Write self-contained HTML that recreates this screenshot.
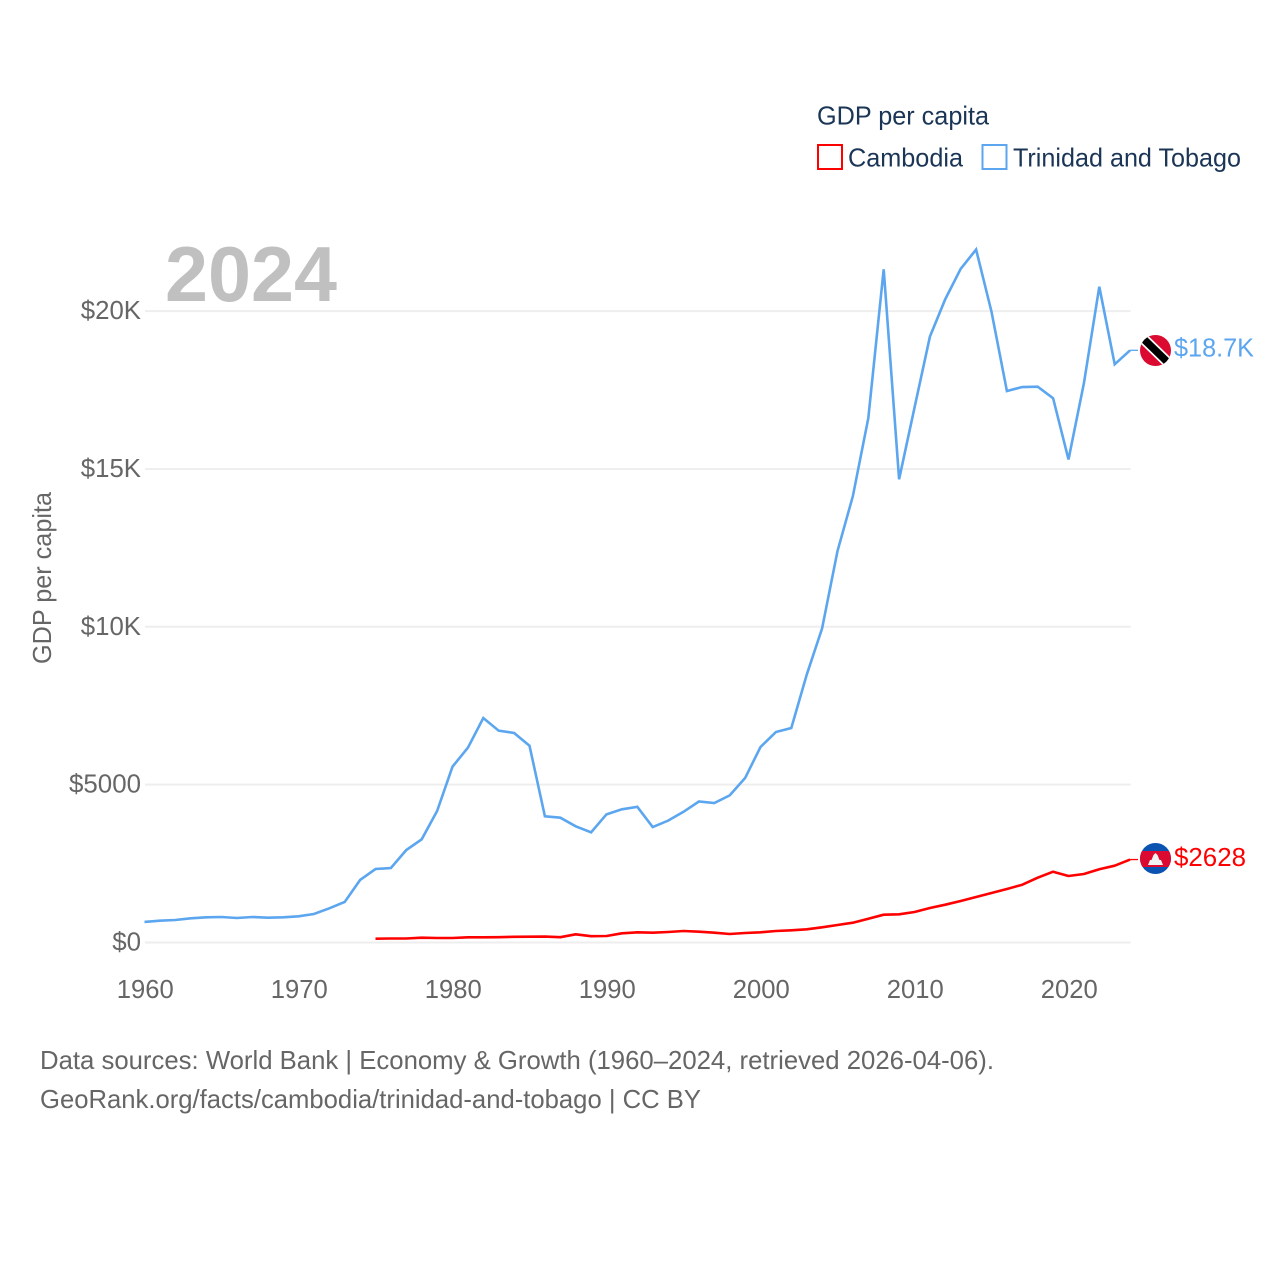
<!DOCTYPE html>
<html lang="en">
<head>
<meta charset="utf-8">
<title>GDP per capita: Cambodia and Trinidad and Tobago</title>
<style>
html,body{margin:0;padding:0;background:#fff}
svg{display:block}
text{font-family:"Liberation Sans",sans-serif;font-size:26px}
</style>
</head>
<body>
<svg id="chart" xmlns="http://www.w3.org/2000/svg" width="1280" height="1280" viewBox="0 0 1280 1280">
  <rect width="1280" height="1280" fill="#fff"/>
  <g id="grid"></g>
  <g id="yticks"></g>
  <g id="xticks"></g>
  <text x="165" y="301" font-weight="700" style="font-size:78px" fill="#c0c0c0" textLength="172" lengthAdjust="spacingAndGlyphs">2024</text>
  <text transform="translate(51,664) rotate(-90)" fill="#666" textLength="172" lengthAdjust="spacingAndGlyphs">GDP per capita</text>
  <g id="series"></g>

  <g>
    <clipPath id="ttClip"><circle cx="1155.500" cy="350.500" r="15.500"/></clipPath>
    <g clip-path="url(#ttClip)">
      <rect x="1139" y="334" width="33" height="33" fill="#da0a30"/>
      <line x1="1139" y1="334.500" x2="1172" y2="366.500" stroke="#fff" stroke-width="11"/>
      <line x1="1139" y1="334.500" x2="1172" y2="366.500" stroke="#000" stroke-width="7.500"/>
    </g>
  </g>
  <g>
    <clipPath id="khClip"><circle cx="1155.500" cy="858.500" r="15.500"/></clipPath>
    <g clip-path="url(#khClip)">
      <rect x="1139" y="842" width="33" height="33" fill="#0b53b0"/>
      <rect x="1139" y="851" width="33" height="16" fill="#dc0a30"/>
      <path d="M1148 865 L1150 860 L1151.500 860 L1153.500 855 L1155.500 853 L1157.500 855 L1159.500 860 L1161 860 L1163 865 Z" fill="#f2f2f2"/>
    </g>
  </g>

  <text x="1174" y="356.500" fill="#5ca6ef" textLength="80" lengthAdjust="spacingAndGlyphs">$18.7K</text>
  <text x="1174" y="866" fill="#ff0000" textLength="72" lengthAdjust="spacingAndGlyphs">$2628</text>

  <g>
    <text x="817" y="124.500" fill="#1b3556" textLength="172" lengthAdjust="spacingAndGlyphs">GDP per capita</text>
    <g>
      <rect x="818" y="145" width="24" height="24" fill="#fff" stroke="#ff0000" stroke-width="2"/>
      <text x="848" y="166.500" fill="#1b3556" textLength="115" lengthAdjust="spacingAndGlyphs">Cambodia</text>
    </g>
    <g>
      <rect x="982.500" y="145" width="24" height="24" fill="#fff" stroke="#5ca6ef" stroke-width="2"/>
      <text x="1013" y="166.500" fill="#1b3556" textLength="228" lengthAdjust="spacingAndGlyphs">Trinidad and Tobago</text>
    </g>
  </g>

  <text x="40" y="1069" fill="#666" textLength="954" lengthAdjust="spacingAndGlyphs">Data sources: World Bank | Economy &amp; Growth (1960–2024, retrieved 2026-04-06).</text>
  <text x="40" y="1108" fill="#666" textLength="661" lengthAdjust="spacingAndGlyphs">GeoRank.org/facts/cambodia/trinidad-and-tobago | CC BY</text>
</svg>
<script>
var trinidadStartYear = 1960;
var trinidadValues = [650,690,713,766,798,808,776,808,786,798,830,903,1083,1283,1980,2328,2360,2930,3269,4165,5570,6170,7111,6709,6636,6234,3997,3953,3680,3490,4060,4219,4298,3658,3860,4140,4466,4418,4660,5210,6192,6667,6794,8480,9950,12400,14143,16610,21324,14672,16940,19190,20380,21340,21950,19980,17470,17595,17605,17240,15300,17713,20773,18315,18758];
var cambodiaStartYear = 1975;
var cambodiaValues = [120,127,127,152,143,143,165,165,168,181,184,187,168,260,200,206,291,323,310,333,364,342,310,269,301,323,364,386,418,482,554,627,754,881,893,966,1093,1198,1315,1441,1568,1695,1831,2053,2243,2107,2170,2319,2433,2628];
var yTickValues = [0,5000,10000,15000,20000];
var yTickLabels = ["$0","$5000","$10K","$15K","$20K"];
var xTickValues = [1960,1970,1980,1990,2000,2010,2020];
var xTickLabels = ["1960","1970","1980","1990","2000","2010","2020"];

var NS = "http://www.w3.org/2000/svg";
function xScale(year){ return 144.5 + (year - 1960) * 15.4; }
function yScale(value){ return 942.5 - value * 0.03157; }
function labelWidth(label){
  var w = 0;
  for (var i = 0; i < label.length; i++) { w += label[i] === "K" ? 17 : 14.4; }
  return w;
}

var grid = document.getElementById("grid");
var yticks = document.getElementById("yticks");
yTickValues.forEach(function(v, i){
  var line = document.createElementNS(NS, "line");
  
  
  line.setAttribute("x1", 145);
  line.setAttribute("x2", 1130.6);
  line.setAttribute("y1", yScale(v));
  line.setAttribute("y2", yScale(v));
  line.setAttribute("stroke", "#eeeeee");
  line.setAttribute("stroke-width", 2);
  grid.appendChild(line);

  var t = document.createElementNS(NS, "text");
  
  
  t.setAttribute("x", 141);
  t.setAttribute("y", yScale(v) + 8);
  t.setAttribute("text-anchor", "end");
  t.setAttribute("fill", "#666");
  t.setAttribute("textLength", labelWidth(yTickLabels[i]));
  t.setAttribute("lengthAdjust", "spacingAndGlyphs");
  t.textContent = yTickLabels[i];
  yticks.appendChild(t);
});

var xticks = document.getElementById("xticks");
xTickValues.forEach(function(v, i){
  var t = document.createElementNS(NS, "text");
  
  
  t.setAttribute("x", xScale(v) + 0.8);
  t.setAttribute("y", 998);
  t.setAttribute("text-anchor", "middle");
  t.setAttribute("fill", "#666");
  t.setAttribute("textLength", 57);
  t.setAttribute("lengthAdjust", "spacingAndGlyphs");
  t.textContent = xTickLabels[i];
  xticks.appendChild(t);
});

var seriesGroup = document.getElementById("series");
function linePoints(startYear, values){
  return values.map(function(v, i){
    return xScale(startYear + i).toFixed(2) + "," + yScale(v).toFixed(2);
  }).join(" ");
}

var trinidadLine = document.createElementNS(NS, "polyline");


trinidadLine.setAttribute("points", linePoints(trinidadStartYear, trinidadValues));
trinidadLine.setAttribute("fill", "none");
trinidadLine.setAttribute("stroke", "#5ca6ef");
trinidadLine.setAttribute("stroke-width", 2.6);
trinidadLine.setAttribute("stroke-linejoin", "miter");
seriesGroup.appendChild(trinidadLine);

var cambodiaLine = document.createElementNS(NS, "polyline");


cambodiaLine.setAttribute("points", linePoints(cambodiaStartYear, cambodiaValues));
cambodiaLine.setAttribute("fill", "none");
cambodiaLine.setAttribute("stroke", "#ff0000");
cambodiaLine.setAttribute("stroke-width", 2.6);
cambodiaLine.setAttribute("stroke-linejoin", "round");
seriesGroup.appendChild(cambodiaLine);

var trinidadLeader = document.createElementNS(NS, "line");


trinidadLeader.setAttribute("x1", xScale(2024));
trinidadLeader.setAttribute("x2", 1138);
trinidadLeader.setAttribute("y1", yScale(trinidadValues[trinidadValues.length - 1]));
trinidadLeader.setAttribute("y2", yScale(trinidadValues[trinidadValues.length - 1]));
trinidadLeader.setAttribute("stroke", "#5ca6ef");
trinidadLeader.setAttribute("stroke-width", 1.3);
seriesGroup.appendChild(trinidadLeader);

var cambodiaLeader = document.createElementNS(NS, "line");


cambodiaLeader.setAttribute("x1", xScale(2024));
cambodiaLeader.setAttribute("x2", 1138);
cambodiaLeader.setAttribute("y1", yScale(cambodiaValues[cambodiaValues.length - 1]));
cambodiaLeader.setAttribute("y2", yScale(cambodiaValues[cambodiaValues.length - 1]));
cambodiaLeader.setAttribute("stroke", "#ff0000");
cambodiaLeader.setAttribute("stroke-width", 1.3);
seriesGroup.appendChild(cambodiaLeader);
</script>
</body>
</html>
